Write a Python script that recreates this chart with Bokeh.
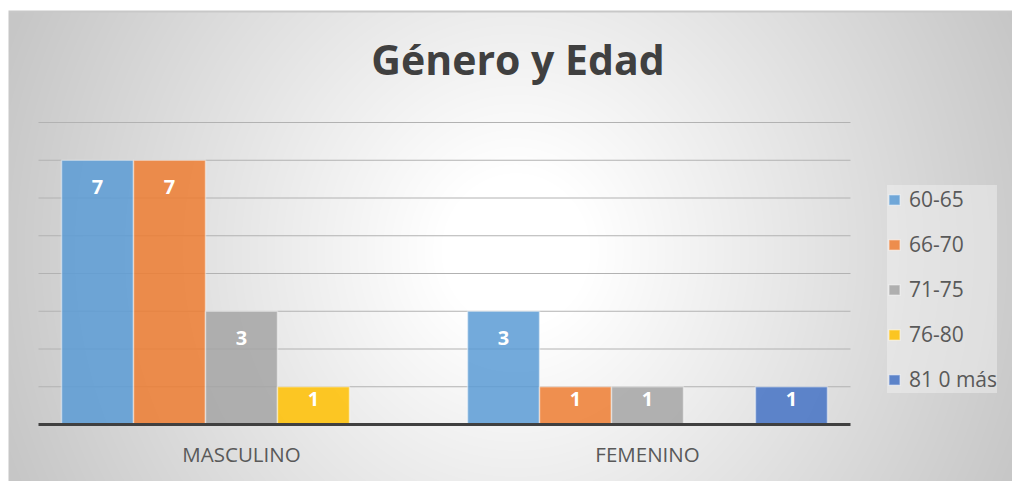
import numpy as np
from bokeh.plotting import figure
from bokeh.models import Range1d, ColumnDataSource, Legend, LegendItem, Label
from bokeh.core.properties import value
from bokeh.embed import file_html
from bokeh.resources import INLINE

# ---- data ----
categories = ["MASCULINO", "FEMENINO"]
age_groups = ["60-65", "66-70", "71-75", "76-80", "81 0 más"]
v_60_65 = [7, 3]
v_66_70 = [7, 1]
v_71_75 = [3, 1]
v_76_80 = [1, 0]
v_81_mas = [0, 1]
series = [v_60_65, v_66_70, v_71_75, v_76_80, v_81_mas]
colors = ["#5B9BD5", "#ED7D31", "#A5A5A5", "#FFC000", "#4472C4"]
y_ticks = [1, 2, 3, 4, 5, 6, 7, 8]
title_text = "Género y Edad"

# ---- layout ----
W, H = 1012, 481
PX_UNIT = 37.75
CAT_PX = 406.0
x0_px, y0_px = 38.0, 57.0  # canvas position of data origin (left, bottom)

p = figure(width=W, height=H, output_backend="svg", toolbar_location=None,
           x_range=Range1d(-x0_px / CAT_PX, (W - x0_px) / CAT_PX),
           y_range=Range1d(-y0_px / PX_UNIT, (H - y0_px) / PX_UNIT),
           x_axis_location=None, y_axis_location=None,
           min_border=0, outline_line_color=None)
p.grid.visible = False
p.extra_x_ranges = {"px": Range1d(0, W)}
p.extra_y_ranges = {"px": Range1d(0, H)}

# background radial gradient (chart area starts at x=8, y=10)
X = np.arange(W)[None, :].astype(float)
Y = (H - 1 - np.arange(H))[:, None].astype(float)
dx = (X - 515.0) / 500.0
dy = (Y - 250.0) / 235.0
r = np.sqrt(dx ** 2 + (0.45 * dy) ** 2)
t = np.clip((r - 0.15) / 0.95, 0, 1)
g = (255 - 57 * t)
g = np.where((X < 8) | (Y < 10), 255, g)
g = np.where(((Y >= 10) & (Y < 11.5)) & (X >= 8), 200, g)
g = g.astype(np.uint8)
img = np.empty((H, W), dtype=np.uint32)
view = img.view(dtype=np.uint8).reshape((H, W, 4))
view[..., 0] = g
view[..., 1] = g
view[..., 2] = g
view[..., 3] = 255
p.image_rgba(image=[img], x=0, y=0, dw=W, dh=H, x_range_name="px", y_range_name="px")

# gridlines
n = len(categories)
p.segment(x0=[0] * len(y_ticks), x1=[n] * len(y_ticks), y0=y_ticks, y1=y_ticks,
          line_color="#b2b2b2", line_width=1)

# bars
bw = 0.1773
items = []
for k, (name, vals, c) in enumerate(zip(age_groups, series, colors)):
    xs = [i + 0.5 + (k - 2) * bw for i in range(n)]
    src = ColumnDataSource(dict(x=xs, top=vals))
    rr = p.vbar(x="x", top="top", bottom=0, width=bw, source=src,
                fill_color=c, fill_alpha=0.85, line_color="white", line_alpha=0.45,
                line_width=1.5)
    items.append(LegendItem(label=name, renderers=[rr]))
    lx = [x for x, v in zip(xs, vals) if v > 0]
    lv = [v for v in vals if v > 0]
    ly = [v - min(0.71, 0.33 * v) for v in lv]
    p.text(x=lx, y=ly, text=[str(v) for v in lv], text_align="center",
           text_baseline="alphabetic", text_font=value("Open Sans"),
           text_font_style="bold", text_font_size="20px", text_color="white")

# axis line
p.segment(x0=[0], x1=[n], y0=[0], y1=[0], line_color="#404040", line_width=3)

# category labels
p.text(x=[i + 0.5 for i in range(n)], y=[-0.79] * n, text=categories,
       text_align="center", text_baseline="alphabetic", text_font=value("Open Sans"),
       text_font_size="20.5px", text_color="#595959")

# title
p.add_layout(Label(x=517.5, y=423, x_range_name="px", y_range_name="px", text=title_text,
                   text_align="center", text_baseline="alphabetic", text_font="Open Sans",
                   text_font_style="bold", text_font_size="41px", text_color="#404040"))

legend = Legend(items=items, location=(887, 88), orientation="vertical",
                glyph_width=14, glyph_height=13, label_standoff=8, label_height=27,
                label_text_font="Open Sans", label_text_font_size="21px",
                label_text_color="#595959", padding=18, spacing=17, margin=0,
                background_fill_color="#f4f4f4", background_fill_alpha=0.45,
                border_line_color=None)
p.add_layout(legend)

open("out.html", "w").write(file_html(p, INLINE))
